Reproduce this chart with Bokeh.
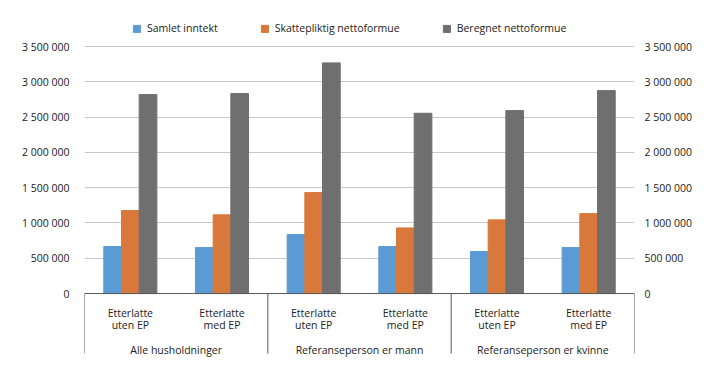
from bokeh.plotting import figure
from bokeh.models import (ColumnDataSource, Range1d, FixedTicker, LinearAxis,
                          Legend, LegendItem)
from bokeh.transform import dodge
from bokeh.core.properties import value
from bokeh.embed import file_html
from bokeh.resources import INLINE

# ---- data ----
groups = ["Alle husholdninger", "Referanseperson er mann", "Referanseperson er kvinne"]
categories = ["Etterlatte\nuten EP", "Etterlatte\nmed EP"] * 3
samlet_inntekt = [666000, 652000, 836000, 666000, 595000, 652000]
skattepliktig_nettoformue = [1176000, 1115000, 1431000, 930000, 1044000, 1133000]
beregnet_nettoformue = [2819000, 2833000, 3268000, 2554000, 2592000, 2875000]
series_names = ["Samlet inntekt", "Skattepliktig nettoformue", "Beregnet nettoformue"]
tick_values = [0, 500000, 1000000, 1500000, 2000000, 2500000, 3000000, 3500000]

colors = ["#5b9bd5", "#d8793b", "#6f6f6f"]
FONT = "Open Sans"
FS = "10.5px"

n = len(categories)
xc = [i + 0.5 for i in range(n)]
src = ColumnDataSource(dict(x=xc, s=samlet_inntekt, k=skattepliktig_nettoformue,
                            b=beregnet_nettoformue, lab=categories))

sep_bottom = -850000
p = figure(width=711, height=375, output_backend="svg", toolbar_location=None,
           x_range=Range1d(0, n), y_range=Range1d(-1090000, 3925000),
           x_axis_location=None, y_axis_location=None,
           min_border_left=84, min_border_right=77, min_border_top=16, min_border_bottom=5)
p.outline_line_color = None
p.background_fill_color = "white"
p.border_fill_color = "white"

ticker = FixedTicker(ticks=tick_values)
overrides = {v: f"{v:,}".replace(",", " ") for v in tick_values}

for loc, standoff in (("left", 15), ("right", 10)):
    ax = LinearAxis(ticker=ticker, major_label_overrides=overrides)
    ax.axis_line_color = None
    ax.major_tick_line_color = None
    ax.minor_tick_line_color = None
    ax.major_tick_out = 0
    ax.major_tick_in = 0
    ax.major_label_standoff = standoff
    ax.major_label_text_font = FONT
    ax.major_label_text_font_size = FS
    ax.major_label_text_color = "#222222"
    p.add_layout(ax, loc)

p.xgrid.visible = False
p.ygrid.ticker = ticker
p.ygrid.grid_line_color = "#c8c8c8"
p.ygrid.grid_line_width = 1

w = 0.193
r1 = p.vbar(x=dodge("x", -w, range=p.x_range), top="s", width=w, source=src, color=colors[0])
r2 = p.vbar(x=dodge("x", 0, range=p.x_range), top="k", width=w, source=src, color=colors[1])
r3 = p.vbar(x=dodge("x", w, range=p.x_range), top="b", width=w, source=src, color=colors[2])

# zero line and group separators
p.segment(x0=[0], y0=[0], x1=[n], y1=[0], line_color="#595959", line_width=1)
sep_x = [0, 2, 4, 6]
p.segment(x0=sep_x, y0=[0] * 4, x1=sep_x, y1=[sep_bottom] * 4,
          line_color="#595959", line_width=1)

# category labels
p.text(x="x", y=0, text="lab", source=src, text_align="center", text_baseline="top",
       y_offset=12, text_font=value(FONT), text_font_size=FS, text_color="#222222",
       text_line_height=0.92)
p.text(x=[1, 3, 5], y=[0, 0, 0], text=groups, text_align="center", text_baseline="middle",
       y_offset=56, text_font=value(FONT), text_font_size=FS, text_color="#222222")

legend = Legend(items=[LegendItem(label=series_names[0], renderers=[r1]),
                       LegendItem(label=series_names[1], renderers=[r2]),
                       LegendItem(label=series_names[2], renderers=[r3])],
                orientation="horizontal", location=(48, 335))
legend.glyph_width = 9
legend.glyph_height = 9
legend.label_height = 12
legend.label_standoff = 6
legend.spacing = 42
legend.padding = 0
legend.margin = 0
legend.border_line_color = None
legend.background_fill_alpha = 0
legend.label_text_font = FONT
legend.label_text_font_size = FS
legend.label_text_color = "#222222"
p.add_layout(legend, "center")

open("out.html", "w").write(file_html(p, INLINE))
